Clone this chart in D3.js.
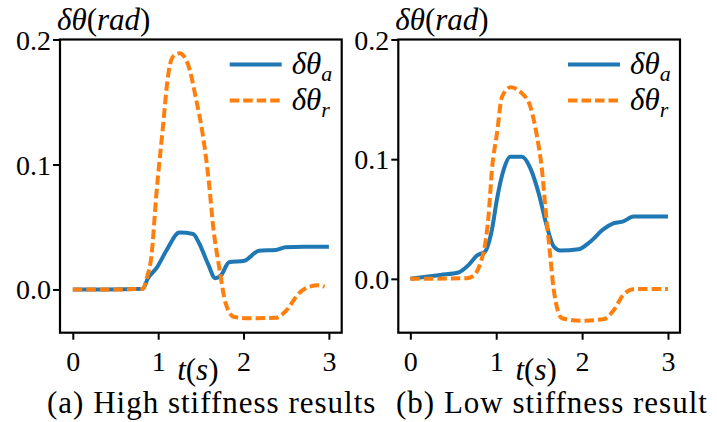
<!DOCTYPE html>
<html>
<head>
<meta charset="utf-8">
<script src="https://cdn.jsdelivr.net/npm/d3@7"></script>
</head>
<body>
<div class="canvas"></div>
<script>
// ---- data ----
const xTicks = [0, 1, 2, 3]
const yTicks = [0, 0.1, 0.2]
const captions = ["(a) High stiffness results", "(b) Low stiffness result"]

// (a) high stiffness
const highActT = [0, 0.4, 0.82, 0.88, 0.98, 1.10, 1.25, 1.41, 1.48, 1.58, 1.67, 1.74, 1.83, 2.01, 2.18, 2.38, 2.49, 2.7, 3.0]
const highActV = [0, 0, 0.0005, 0.009, 0.017, 0.0316, 0.0455, 0.0444, 0.037, 0.021, 0.009, 0.0116, 0.0218, 0.023, 0.031, 0.0316, 0.0337, 0.0342, 0.0342]
const highRefT = [0, 0.5, 0.82, 0.87, 0.92, 0.98, 1.056, 1.114, 1.17, 1.25, 1.35, 1.445, 1.52, 1.60, 1.64, 1.72, 1.79, 1.89, 2.05, 2.38, 2.49, 2.65, 2.77, 2.88, 2.95]
const highRefV = [0, 0, 0.0005, 0.010, 0.026, 0.077, 0.130, 0.170, 0.186, 0.189, 0.180, 0.152, 0.125, 0.082, 0.053, 0.0156, -0.011, -0.022, -0.023, -0.0227, -0.0177, -0.003, 0.0022, 0.0034, 0.0022]

// (b) low stiffness
const lowActT = [0, 0.35, 0.56, 0.68, 0.776, 0.87, 0.95, 1.01, 1.086, 1.164, 1.30, 1.397, 1.494, 1.59, 1.67, 1.746, 1.96, 2.095, 2.25, 2.37, 2.48, 2.60, 3.0]
const lowActV = [0, 0.0033, 0.0053, 0.0117, 0.0195, 0.0228, 0.041, 0.067, 0.091, 0.102, 0.102, 0.0925, 0.0716, 0.0437, 0.027, 0.0237, 0.0248, 0.031, 0.0415, 0.0465, 0.048, 0.052, 0.052]
const lowRefT = [0, 0.66, 0.737, 0.815, 0.873, 0.91, 0.95, 1.01, 1.067, 1.164, 1.30, 1.397, 1.475, 1.533, 1.572, 1.63, 1.67, 1.766, 1.99, 2.25, 2.37, 2.48, 2.60, 3.0]
const lowRefV = [0, 0.0006, 0.0025, 0.013, 0.030, 0.052, 0.091, 0.122, 0.152, 0.160, 0.155, 0.144, 0.119, 0.091, 0.060, 0.0186, -0.0092, -0.0329, -0.035, -0.0337, -0.026, -0.0134, -0.0086, -0.0084]

const zip = (ts, vs) => ts.map((t, i) => ({t, v: vs[i]}))

const width = 717, height = 422
const blue = "#1f77b4", orange = "#ff7f0e"
const fontStack = "'Liberation Serif', serif"

const svg = d3.select(".canvas").append("svg").attr("width", width).attr("height", height)
    .style("position", "absolute").style("left", "0px").style("top", "0px")

const addText = (sel) => sel.append("text").style("font-family", fontStack).attr("fill", "#000")

const drawPanel = (p) => {
    const x = d3.scaleLinear().domain(p.xDomain).range([p.left, p.right])
    const y = d3.scaleLinear().domain(p.yDomain).range([p.bottom, p.top])
    const g = svg.append("g")

    // axes
    const xAxis = d3.axisBottom(x).tickValues(xTicks).tickSize(7).tickFormat(d3.format("d"))
    const yAxis = d3.axisLeft(y).tickValues(yTicks).tickSize(7).tickFormat(d3.format(".1f"))

    const xg = g.append("g").attr("transform", `translate(0, ${p.bottom})`).call(xAxis)
    const yg = g.append("g").attr("transform", `translate(${p.left}, 0)`).call(yAxis)
    ;[xg, yg].forEach(a => {
        a.attr("font-family", null)
        a.select(".domain").remove()
        a.selectAll(".tick line").attr("stroke", "#000").attr("stroke-width", 2)
        a.selectAll("text").attr("font-size", 28).style("font-family", fontStack).attr("fill", "#000")
    })
    xg.selectAll("text").attr("y", 38).attr("dy", 0)
    yg.selectAll("text").attr("x", -9).attr("dy", "0.34em")

    // lines
    const line = d3.line().x(d => x(d.t)).y(d => y(d.v)).curve(d3.curveMonotoneX)
    g.append("path").datum(p.act).attr("d", line)
        .attr("fill", "none").attr("stroke", blue).attr("stroke-width", 4)
    g.append("path").datum(p.ref).attr("d", line)
        .attr("fill", "none").attr("stroke", orange).attr("stroke-width", 4)
        .attr("stroke-dasharray", "9.5,4")

    // frame
    g.append("rect").attr("x", p.left).attr("y", p.top)
        .attr("width", p.right - p.left).attr("height", p.bottom - p.top)
        .attr("fill", "none").attr("stroke", "#000").attr("stroke-width", 2.2)

    // legend
    const legend = [{sub: "a", color: blue, dash: null}, {sub: "r", color: orange, dash: "9.5,4"}]
    legend.forEach((d, i) => {
        const ly = p.top + 25 + i * 36
        g.append("line").attr("x1", p.right - 112).attr("x2", p.right - 60)
            .attr("y1", ly).attr("y2", ly)
            .attr("stroke", d.color).attr("stroke-width", 4).attr("stroke-dasharray", d.dash)
        const t = addText(g).attr("x", p.right - 50).attr("y", ly + 9)
            .attr("font-size", 31).attr("font-style", "italic")
        t.append("tspan").text("δθ")
        t.append("tspan").attr("font-size", 22).attr("dy", 7).text(d.sub)
    })

    // axis labels
    const yl = addText(g).attr("x", p.left - 3).attr("y", 30).attr("font-size", 31)
    yl.append("tspan").attr("font-style", "italic").text("δθ")
    yl.append("tspan").text("(")
    yl.append("tspan").attr("font-style", "italic").text("rad")
    yl.append("tspan").text(")")

    const xl = addText(g).attr("x", (p.left + p.right) / 2 - 3).attr("y", 380)
        .attr("font-size", 31).attr("text-anchor", "middle")
    xl.append("tspan").attr("font-style", "italic").text("t")
    xl.append("tspan").text("(")
    xl.append("tspan").attr("font-style", "italic").text("s")
    xl.append("tspan").text(")")

    addText(g).attr("x", p.capX).attr("y", 413).attr("font-size", 31)
        .attr("letter-spacing", 1).text(p.caption)
}

drawPanel({
    left: 60, right: 341.7, top: 39.5, bottom: 332.7,
    xDomain: [-0.15, 3.15], yDomain: [-0.0346, 0.2],
    act: zip(highActT, highActV), ref: zip(highRefT, highRefV),
    caption: captions[0], capX: 47
})
drawPanel({
    left: 398.3, right: 680, top: 39.5, bottom: 332.7,
    xDomain: [-0.14, 3.14], yDomain: [-0.045, 0.2],
    act: zip(lowActT, lowActV), ref: zip(lowRefT, lowRefV),
    caption: captions[1], capX: 396
})
</script>
</body>
</html>
